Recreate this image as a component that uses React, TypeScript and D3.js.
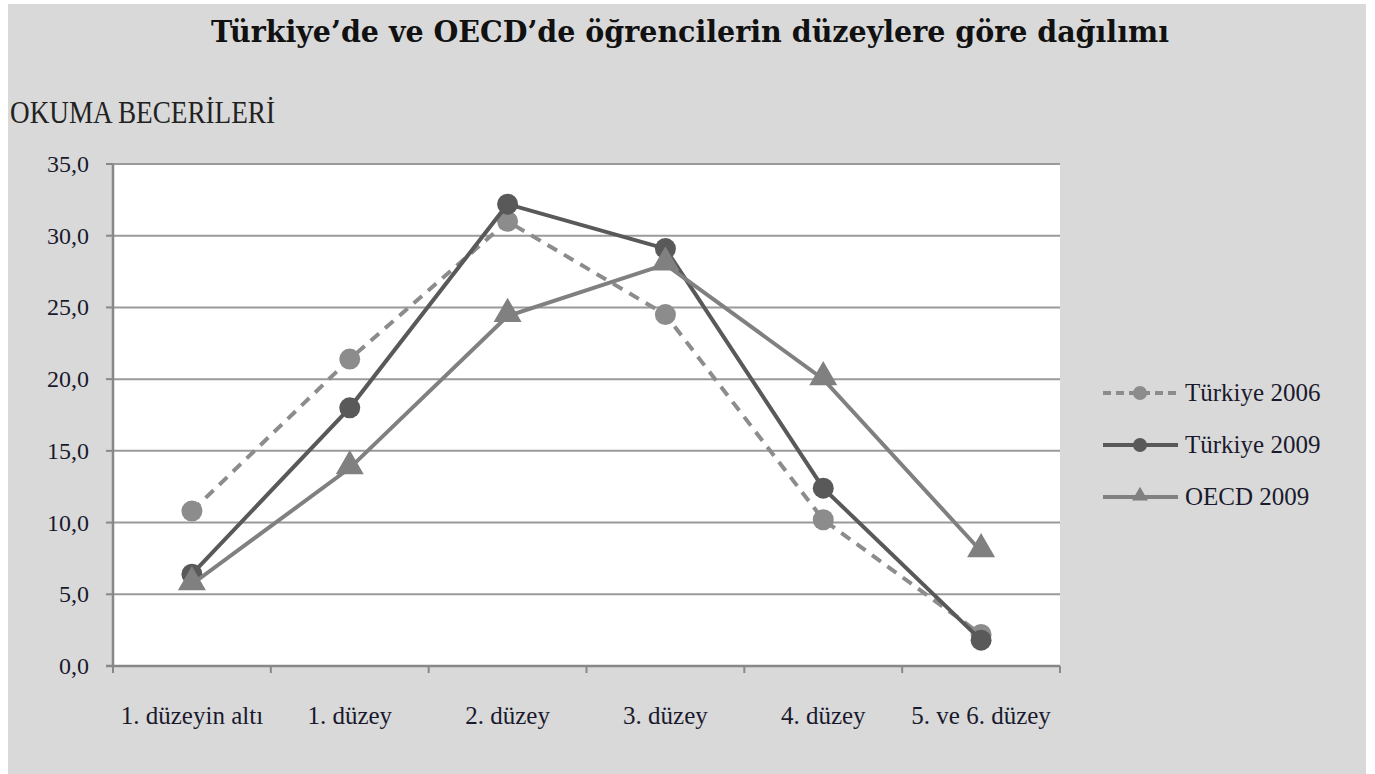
import React from 'react';
import * as d3 from 'd3';

const categories = ['1. düzeyin altı', '1. düzey', '2. düzey', '3. düzey', '4. düzey', '5. ve 6. düzey'];
const turkiye2006 = [10.8, 21.4, 31.0, 24.5, 10.2, 2.2];
const turkiye2009 = [6.4, 18.0, 32.2, 29.1, 12.4, 1.8];
const oecd2009 = [5.7, 13.8, 24.4, 28.0, 20.0, 8.0];
const yTicks = [0, 5, 10, 15, 20, 25, 30, 35];

const seriesList = [
  { name: 'Türkiye 2006', values: turkiye2006, color: '#8c8c8c', dash: '11,8', marker: 'circle' },
  { name: 'Türkiye 2009', values: turkiye2009, color: '#595959', dash: null, marker: 'circle' },
  { name: 'OECD 2009', values: oecd2009, color: '#808080', dash: null, marker: 'triangle' },
];

const W = 1375;
const H = 774;
const plot = { left: 113, right: 1060, top: 164, bottom: 666 };
const serif = "'Liberation Serif', 'DejaVu Serif', serif";

const App: React.FC = () => {
  const x = d3.scaleBand<string>()
    .domain(categories)
    .range([plot.left, plot.right]);

  const y = d3.scaleLinear()
    .domain([0, 35])
    .range([plot.bottom, plot.top]);

  const cx = (c: string) => (x(c) as number) + x.bandwidth() / 2;

  const line = d3.line<number>()
    .x((_, i) => cx(categories[i]))
    .y(d => y(d));

  const tri = d3.symbol().type(d3.symbolTriangle).size(340);
  const triSmall = d3.symbol().type(d3.symbolTriangle).size(110);

  const bandEdges = [...categories.map(c => x(c) as number), plot.right];

  return (
    <svg width={W} height={H} style={{ position: 'absolute', left: 0, top: 0, background: '#fff' }}>
      {/* Outer grey panel */}
      <rect x={8} y={4} width={1358} height={H - 4} fill="#d9d9d9" />

      {/* Title */}
      <text x={690} y={42} textAnchor="middle" fontFamily="'DejaVu Serif', serif" fontWeight="bold"
        fontSize={30} textLength={958} lengthAdjust="spacingAndGlyphs" fill="#111">
        Türkiye’de ve OECD’de öğrencilerin düzeylere göre dağılımı
      </text>

      <text x={10} y={123} fontFamily={serif} fontSize={31} textLength={265}
        lengthAdjust="spacingAndGlyphs" fill="#222">
        OKUMA BECERİLERİ
      </text>

      {/* Plot area */}
      <rect x={plot.left} y={plot.top} width={plot.right - plot.left} height={plot.bottom - plot.top} fill="#fff" />

      {/* Gridlines */}
      {yTicks.map(t => (
        <g key={t}>
          {t > 0 && (
            <line x1={plot.left} x2={plot.right} y1={y(t)} y2={y(t)} stroke="#9a9a9a" strokeWidth={2} />
          )}
          <line x1={plot.left - 7} x2={plot.left} y1={y(t)} y2={y(t)} stroke="#888" strokeWidth={2} />
          <text x={89} y={y(t) + 8} textAnchor="end" fontFamily={serif} fontSize={24} fill="#1a1a2e">
            {d3.format('.1f')(t).replace('.', ',')}
          </text>
        </g>
      ))}

      {/* Axes */}
      <line x1={plot.left} x2={plot.left} y1={plot.top} y2={plot.bottom + 1} stroke="#888" strokeWidth={2.5} />
      <line x1={plot.left - 7} x2={plot.right} y1={plot.bottom} y2={plot.bottom} stroke="#888" strokeWidth={2.5} />
      {bandEdges.map((e, i) => (
        <line key={i} x1={e} x2={e} y1={plot.bottom} y2={plot.bottom + 7} stroke="#888" strokeWidth={2} />
      ))}
      {categories.map(c => (
        <text key={c} x={cx(c)} y={724} textAnchor="middle" fontFamily={serif} fontSize={25} fill="#1a1a2e">
          {c}
        </text>
      ))}

      {/* Series */}
      {seriesList.map(s => (
        <g key={s.name}>
          <path d={line(s.values) || ''} fill="none" stroke={s.color} strokeWidth={4}
            strokeDasharray={s.dash || undefined} />
          {s.values.map((v, i) => s.marker === 'circle' ? (
            <circle key={i} cx={cx(categories[i])} cy={y(v)} r={10.5} fill={s.color} />
          ) : (
            <path key={i} d={tri() || ''} transform={`translate(${cx(categories[i])},${y(v) - 2})`} fill={s.color} />
          ))}
        </g>
      ))}

      {/* Legend */}
      {seriesList.map((s, i) => {
        const ly = 393 + i * 52;
        return (
          <g key={s.name}>
            <line x1={1103} x2={1178} y1={ly} y2={ly} stroke={s.color} strokeWidth={4}
              strokeDasharray={s.dash ? '8,5' : undefined} />
            {s.marker === 'circle' ? (
              <circle cx={1140} cy={ly} r={7} fill={s.color} />
            ) : (
              <path d={triSmall() || ''} transform={`translate(1140,${ly - 1})`} fill={s.color} />
            )}
            <text x={1185} y={ly + 8} fontFamily={serif} fontSize={25} fill="#1a1a2e">
              {s.name}
            </text>
          </g>
        );
      })}
    </svg>
  );
};

export default App;
